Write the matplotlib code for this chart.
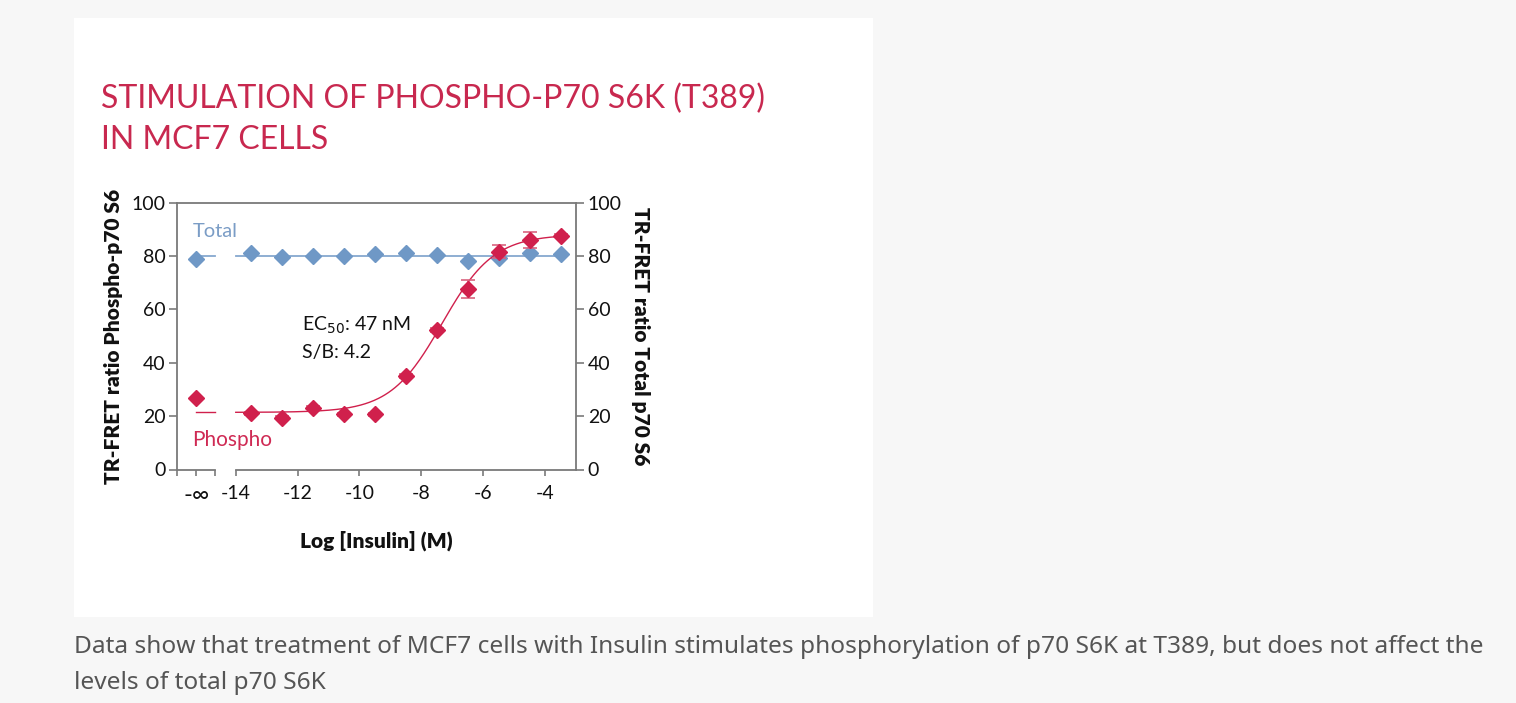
import numpy as np
import matplotlib
matplotlib.use("Agg")
import matplotlib.pyplot as plt
from matplotlib.patches import Rectangle

# ---------------- data ----------------
log_insulin = [-13.5, -12.5, -11.5, -10.5, -9.5, -8.5, -7.5, -6.5, -5.5, -4.5, -3.5]
phospho_vals = [21.0, 19.4, 23.1, 20.6, 20.6, 34.9, 52.3, 67.6, 81.6, 86.0, 87.6]
phospho_err = [0.6, 0.6, 0.6, 0.6, 0.6, 0.8, 0.8, 3.2, 2.3, 3.0, 0.6]
phospho_ctrl = 26.6          # no insulin (-inf)
total_vals = [81.0, 79.5, 79.9, 79.8, 80.6, 81.0, 80.3, 78.1, 79.1, 81.0, 80.8]
total_ctrl = 79.0
total_mean = 80.0
# 4PL fit of phospho response
fit_bottom, fit_top, fit_logec50, fit_hill = 21.4, 88.0, -7.33, 0.52

xtick_vals = [-14, -12, -10, -8, -6, -4]
xtick_labels = ["-14", "-12", "-10", "-8", "-6", "-4"]
ytick_vals = [0, 20, 40, 60, 80, 100]

# ---------------- layout constants ----------------
W, H = 1516, 703
X_LEFT, NEG_INF_POS, BREAK_END, X_RIGHT = -15.89, -15.27, -14.66, -3.0
FIT_END = -3.3

RED = "#d0204c"
RED_LIGHT = "#d9647f"
BLUE = "#6f98c6"
BLUE_LINE = "#86a8cf"
TITLE_RED = "#c8284f"
SPINE = "#7a7a7a"
FONT = ["Lato", "DejaVu Sans"]
TICK_FS = 14

fig = plt.figure(figsize=(W / 100, H / 100), dpi=100)
fig.patch.set_facecolor("#f7f7f7")
fig.patches.append(Rectangle((74 / W, 1 - 617 / H), (873 - 74) / W, (617 - 18) / H,
                             transform=fig.transFigure, facecolor="white",
                             edgecolor="none", zorder=-5))

ax = fig.add_axes([177.3 / W, 1 - 469.5 / H, (576 - 177.3) / W, (469.5 - 202.5) / H])
ax.set_facecolor("none")
ax.set_xlim(X_LEFT, X_RIGHT)
ax.set_ylim(0, 100)

# total
ax.plot([NEG_INF_POS, BREAK_END], [total_mean, total_mean], color=BLUE_LINE, lw=1.3, zorder=2)
ax.plot([-14, FIT_END], [total_mean, total_mean], color=BLUE_LINE, lw=1.3, zorder=2)
ax.plot([NEG_INF_POS] + log_insulin, [total_ctrl] + total_vals, ls="none", marker="D",
        ms=8, color=BLUE, mec=BLUE, zorder=3)

# phospho fit
xs = np.linspace(-14, FIT_END, 300)
ys = fit_bottom + (fit_top - fit_bottom) / (1 + 10 ** ((fit_logec50 - xs) * fit_hill))
ax.plot(xs, ys, color=RED, lw=1.0, zorder=4)
ax.plot([NEG_INF_POS, BREAK_END], [fit_bottom, fit_bottom], color=RED, lw=1.0, zorder=4)
ax.errorbar(log_insulin, phospho_vals, yerr=phospho_err, ls="none", ecolor=RED_LIGHT,
            elinewidth=1.2, capsize=5, capthick=1.2, zorder=4)
ax.plot([NEG_INF_POS] + log_insulin, [phospho_ctrl] + phospho_vals, ls="none", marker="D",
        ms=8, color=RED, mec=RED, zorder=5)

# spines
for s in ["left", "right", "top"]:
    ax.spines[s].set_color(SPINE)
    ax.spines[s].set_linewidth(1.3)
ax.spines["bottom"].set_visible(False)
ax.plot([X_LEFT, BREAK_END], [0, 0], color=SPINE, lw=1.3, clip_on=False, zorder=6)
ax.plot([-14, X_RIGHT], [0, 0], color=SPINE, lw=1.3, clip_on=False, zorder=6)

ax.set_xticks([X_LEFT, NEG_INF_POS, BREAK_END] + xtick_vals)
ax.set_xticklabels(["", "-∞", ""] + xtick_labels)
ax.set_yticks(ytick_vals)
ax.set_yticklabels([str(v) for v in ytick_vals])
ax.tick_params(axis="x", direction="out", length=4.5, width=1.2, color=SPINE,
               labelsize=TICK_FS, pad=7, labelcolor="#111111")
ax.tick_params(axis="y", direction="out", length=5.5, width=1.2, color=SPINE,
               labelsize=TICK_FS, pad=3, labelcolor="#111111")
for t in ax.get_xticklabels() + ax.get_yticklabels():
    t.set_fontfamily(FONT)
ax.get_xticklabels()[1].set_fontsize(17)

ax2 = ax.twinx()
ax2.set_ylim(0, 100)
ax2.set_yticks(ytick_vals)
ax2.set_yticklabels([str(v) for v in ytick_vals])
for s in ["left", "right", "top", "bottom"]:
    ax2.spines[s].set_visible(False)
ax2.tick_params(axis="y", direction="out", length=5.5, width=1.2, color=SPINE,
                labelsize=TICK_FS, pad=3, labelcolor="#111111")
for t in ax2.get_yticklabels():
    t.set_fontfamily(FONT)

lab_kw = dict(fontsize=15, fontweight="heavy", family=FONT, color="#111111")
ax.set_ylabel("TR-FRET ratio Phospho-p70 S6", labelpad=6, **lab_kw)
ax2.set_ylabel("TR-FRET ratio Total p70 S6", rotation=270, labelpad=20, **lab_kw)
ax.set_xlabel("Log [Insulin] (M)", labelpad=17, **lab_kw)

# annotations
ax.text(-15.4, 89, "Total", color="#7b9dc6", fontsize=14.5, family=FONT,
        va="center", ha="left")
ax.text(-15.4, 11, "Phospho", color="#cf2a54", fontsize=15, family=FONT,
        va="center", ha="left")
ax.text(-11.87, 54.1, "EC$_{50}$: 47 nM", color="#111111", fontsize=14,
        family=FONT, va="center", ha="left")
ax.text(-11.87, 44.0, "S/B: 4.2", color="#111111", fontsize=14,
        family=FONT, va="center", ha="left")

# title
title_kw = dict(color=TITLE_RED, fontsize=23, family=FONT,
                fontweight="normal", ha="left", va="center", transform=fig.transFigure)
fig.text(101 / W, 1 - 99 / H, "STIMULATION OF PHOSPHO-P70 S6K (T389)", **title_kw)
fig.text(101 / W, 1 - 140 / H, "IN MCF7 CELLS", **title_kw)

# caption
cap_kw = dict(color="#555555", fontsize=17.6, family=["Noto Sans", "DejaVu Sans"],
              ha="left", va="center", transform=fig.transFigure)
fig.text(74 / W, 1 - 647 / H,
         "Data show that treatment of MCF7 cells with Insulin stimulates phosphorylation of p70 S6K at T389, but does not affect the",
         **cap_kw)
fig.text(74 / W, 1 - 683 / H, "levels of total p70 S6K", **cap_kw)

fig.savefig("out.png", dpi=100, facecolor=fig.get_facecolor())
